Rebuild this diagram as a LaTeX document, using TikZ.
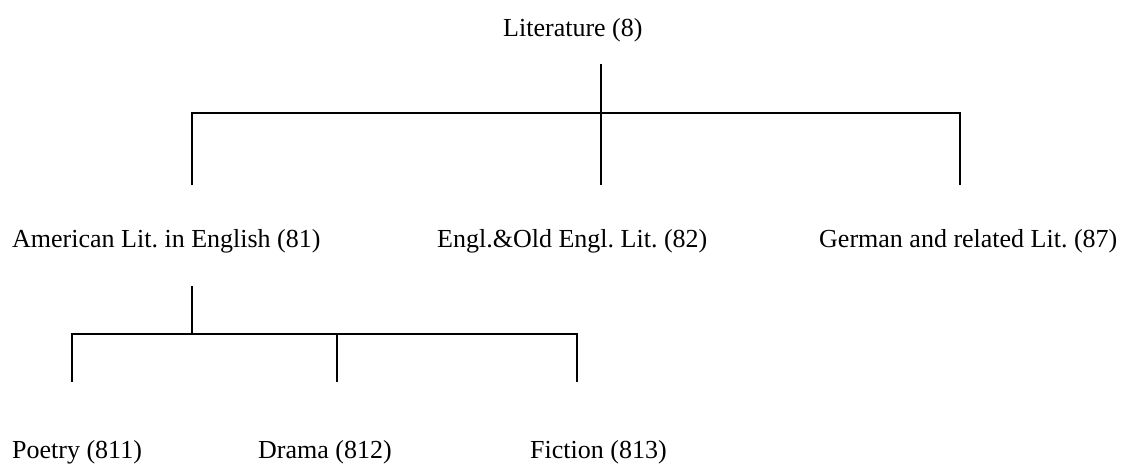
\documentclass[tikz,border=0pt]{standalone}
\usepackage{fontspec}
\setmainfont{Liberation Serif}
\frenchspacing
\begin{document}
\begin{tikzpicture}[x=1pt,y=-1pt,
  lbl/.style={anchor=base west, inner sep=0pt, font=\fontsize{26}{30}\selectfont},
  conn/.style={line width=1.4pt, line join=miter}]
\useasboundingbox (0,0) rectangle (1127,464);
% labels
\node[lbl] (lit) at (503,36) {Literature (8)};
\node[lbl] (am) at (12,247) {American Lit. in English (81)};
\node[lbl] (en) at (437,247) {Engl.\&Old Engl. Lit. (82)};
\node[lbl] (ge) at (819,247) {German and related Lit. (87)};
\node[lbl] (po) at (12,458) {Poetry (811)};
\node[lbl] (dr) at (258,458) {Drama (812)};
\node[lbl] (fi) at (530,458) {Fiction (813)};
% junction points
\coordinate (t0) at (601,64);
\coordinate (t1) at (601,113);
\coordinate (hL) at (192,113);
\coordinate (hR) at (960,113);
\coordinate (c1) at (192,185);
\coordinate (c2) at (601,185);
\coordinate (c3) at (960,185);
\coordinate (s0) at (192,286);
\coordinate (s1) at (192,334);
\coordinate (sL) at (72,334);
\coordinate (sM) at (337,334);
\coordinate (sR) at (577,334);
\coordinate (d1) at (72,382);
\coordinate (d2) at (337,382);
\coordinate (d3) at (577,382);
% connectors
\draw[conn] (t0) -- (c2);
\draw[conn] (c1) -- (hL) -- (hR) -- (c3);
\draw[conn] (s0) -- (s1);
\draw[conn] (d1) -- (sL) -- (sR) -- (d3);
\draw[conn] (sM) -- (d2);
\end{tikzpicture}
\end{document}
